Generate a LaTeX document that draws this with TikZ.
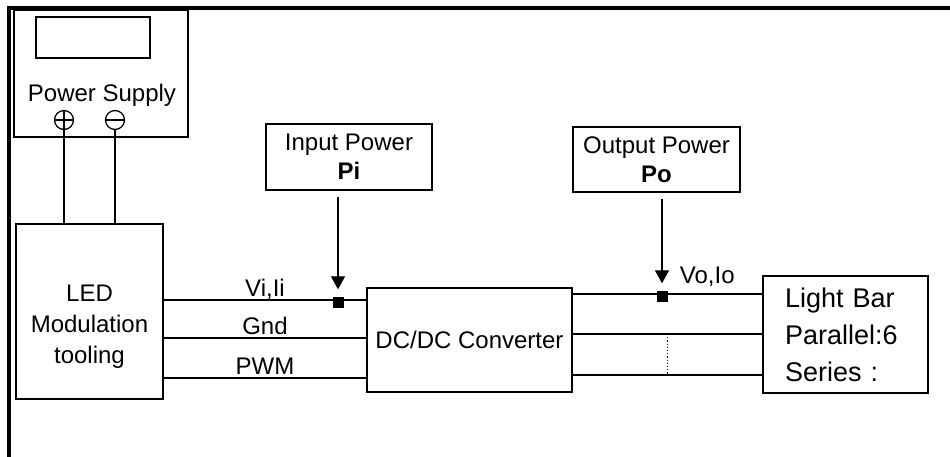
\documentclass[tikz,border=0pt]{standalone}
\usepackage{fontspec}
\setmainfont{Liberation Sans}
\usetikzlibrary{arrows.meta, positioning, calc}

\begin{document}
\begin{tikzpicture}[x=1pt, y=-1pt, font=\fontsize{24}{29}\selectfont,
    box/.style={draw, line width=1.5pt, inner sep=0pt, align=center},
    wire/.style={line width=1.3pt},
    junction/.style={fill, minimum size=11pt, inner sep=0pt},
    terminal/.style={draw, circle, line width=1.3pt, minimum size=19pt, inner sep=0pt},
    lbl/.style={above, inner sep=3pt, text depth=0pt},
    probe/.style={line width=1.3pt, -{Triangle[width=14pt, length=13pt]}, shorten <=6pt, shorten >=7pt}]
    \useasboundingbox (0,0) rectangle (950,457);

    % frame
    \draw[line width=4pt] (9,457) -- (9,8) -- (950,8);

    % Power supply
    \node[box, minimum width=174pt, minimum height=127pt] (psu) at (101,73.5) {};
    \node[box, minimum width=114pt, minimum height=41pt] (display) at (93,37.5) {};
    \node (psulabel) at (102,95) {Power Supply};
    \node[terminal] (plus) at (64,120) {};
    \draw[line width=1.3pt] (plus.north) -- (plus.south) (plus.west) -- (plus.east);
    \node[terminal] (minus) at (115,120) {};
    \draw[line width=1.3pt] (minus.west) -- (minus.east);

    % LED modulation tooling
    \node[box, minimum width=147pt, minimum height=175pt] (led) at (89.5,311.5) {};
    \node[align=center, font=\fontsize{24}{31}\selectfont] (ledlabel) at (89.5,327) {LED\\Modulation\\tooling};
    \draw[wire] (plus.south) -- (plus.south |- led.north);
    \draw[wire] (minus.south) -- (minus.south |- led.north);

    % converter, load and probes
    \node[box, minimum width=205pt, minimum height=104pt] (dc) at (469.5,340) {DC/DC Converter};
    \node[box, minimum width=165pt, minimum height=117pt, text width=121pt, align=left,
          font=\fontsize{27}{37}\selectfont] (bar) at (845.5,334.5) {Light Bar\\Parallel:6\\Series :};
    \node[box, minimum width=166pt, minimum height=66pt] (inp) at (349,157) {Input Power\\\textbf{Pi}};
    \node[box, minimum width=167pt, minimum height=65pt] (outp) at (656.5,159.5) {Output Power\\\textbf{Po}};

    % input side
    \node[junction] (jin) at (338,302) {};
    \coordinate (vi) at (0,300);
    \coordinate (gnd) at (0,338);
    \coordinate (pwm) at (0,378);
    \draw[wire] (led.east |- vi) -- node[lbl] {Vi,Ii} (dc.west |- vi);
    \draw[wire] (led.east |- gnd) -- node[lbl] {Gnd} (dc.west |- gnd);
    \draw[wire] (led.east |- pwm) -- node[lbl] {PWM} (dc.west |- pwm);
    \draw[probe] (inp.south -| jin) -- (jin.north);

    % output side
    \node[junction] (jout) at (662,296) {};
    \coordinate (out1) at (0,294);
    \coordinate (out2) at (0,334);
    \coordinate (out3) at (0,375);
    \draw[wire] (dc.east |- out1) -- (bar.west |- out1);
    \draw[wire] (dc.east |- out2) -- (bar.west |- out2);
    \draw[wire] (dc.east |- out3) -- (bar.west |- out3);
    \draw[dotted, line width=1.2pt] ($(dc.east |- out2)!0.5!(bar.west |- out2)$) -- ($(dc.east |- out3)!0.5!(bar.west |- out3)$);
    \node[above right=7pt and 12pt of jout, inner sep=0pt, text depth=0pt] (volabel) {Vo,Io};
    \draw[probe] (outp.south -| jout) -- (jout.north);
\end{tikzpicture}
\end{document}
